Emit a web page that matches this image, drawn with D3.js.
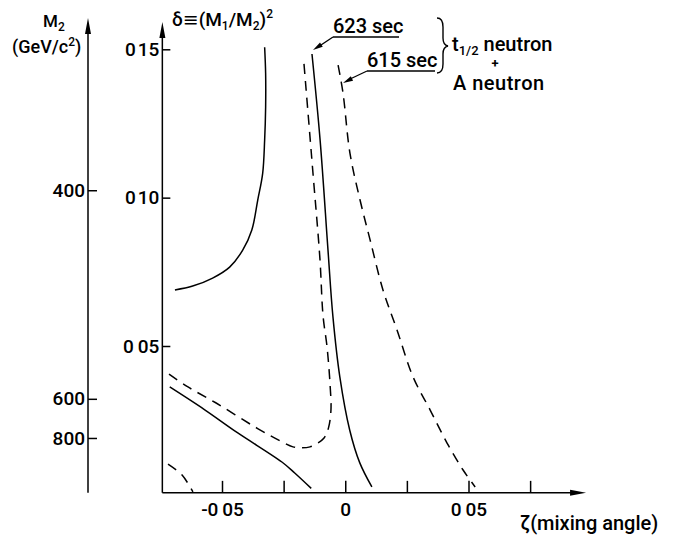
<!DOCTYPE html>
<html>
<head>
<meta charset="utf-8">
<script src="https://cdn.jsdelivr.net/npm/d3@7"></script>
<style>
  body { margin: 0; background: #fff; }
  svg { font-family: Roboto, "DejaVu Sans", sans-serif; font-weight: 500; }
</style>
</head>
<body>
<div id="chart"></div>
<script>
// curve data, [zeta, delta]
var solidUpper = [[-0.0691,0.0689],[-0.0619,0.0702],[-0.0538,0.0729],[-0.0469,0.0766],[-0.0416,0.0823],
  [-0.0379,0.0891],[-0.0355,0.0992],[-0.0335,0.1082],[-0.0327,0.1194],[-0.0323,0.1305],[-0.0323,0.1419],[-0.0327,0.1507]];
var solidLower = [[-0.0712,0.0362],[-0.0570,0.0285],[-0.0436,0.0207],[-0.0257,0.0109],
  [-0.0205,0.0072],[-0.0138,0.0020]];
var dashedLeft = [[-0.0715,0.0405],[-0.0638,0.0362],[-0.0522,0.0307],[-0.0366,0.0227],[-0.0257,0.0177],
  [-0.0212,0.0160],[-0.0176,0.0157],[-0.0143,0.0160],[-0.0111,0.0173],[-0.0086,0.0190],[-0.0068,0.0224],
  [-0.0058,0.0284],[-0.0062,0.0375],[-0.0074,0.0498],[-0.0090,0.0601],[-0.0103,0.0797],[-0.0131,0.1083],[-0.0168,0.1457]];
var solidCentral = [[-0.0135,0.1484],[-0.0102,0.1194],[-0.0070,0.0823],[-0.0050,0.0599],[-0.0022,0.0396],
  [0.0018,0.0217],[0.0059,0.0106],[0.0108,0.0025]];
var dashedRight = [[-0.0029,0.1447],[-0.0009,0.1352],[0.0019,0.1150],[0.0060,0.0992],[0.0101,0.0857],
  [0.0153,0.0689],[0.0210,0.0554],[0.0275,0.0396],[0.0344,0.0285],[0.0413,0.0173],[0.0478,0.0082],[0.0527,0.0025]];
var dashedCorner = [[-0.0719,0.0102],[-0.0662,0.0065],[-0.0618,0.0008]];

// ticks
var xTicks = [-0.05, -0.025, 0, 0.025, 0.05, 0.075];
var xLabelValues = [-0.05, 0, 0.05];
var xLabelText = ["-0\u200905", "0", "0\u200905"];
var yTicks = [0.05, 0.10, 0.15];
var yLabelText = ["0\u200905", "0\u200a10", "0\u200a15"];
var m2Ticks = [400, 600, 800];
var m2Delta = [0.1025, 0.0322, 0.0190];

var svgWidth = 677, svgHeight = 537;

var svg = d3.select("#chart")
  .append("svg")
  .attr("width", svgWidth)
  .attr("height", svgHeight);
svg.append("rect")
  .attr("width", "100%")
  .attr("height", "100%")
  .attr("fill", "white");

var x = d3.scaleLinear().domain([-0.05, 0.05]).range([222, 468.5]);
var y = d3.scaleLinear().domain([0.05, 0.15]).range([346, 49.3]);
var m2 = d3.scaleLinear().domain(m2Ticks).range(m2Delta.map(d => y(d)));

var zetaStart = -0.0742, zetaEnd = 0.0977, deltaBase = 0.0005;
var x0 = x(zetaStart), y0 = y(deltaBase);
var m2x = 88;

function arrowHead(tx, ty, ang, len, hw) {
  var c = Math.cos(ang), s = Math.sin(ang);
  var bx = tx - c * len, by = ty - s * len;
  return "M" + tx + "," + ty + "L" + (bx - s * hw) + "," + (by + c * hw) +
    "L" + (bx + s * hw) + "," + (by - c * hw) + "Z";
}

// axis lines with arrows
var axes = svg.append("g").attr("stroke", "black").attr("stroke-width", 1.5);
axes.append("line").attr("x1", x0).attr("y1", y0).attr("x2", x(zetaEnd) - 10).attr("y2", y0);
axes.append("line").attr("x1", x0).attr("y1", y0).attr("x2", x0).attr("y2", 34);
axes.append("line").attr("x1", m2x).attr("y1", y0).attr("x2", m2x).attr("y2", 30);
svg.append("path").attr("d", arrowHead(x(zetaEnd), y0, 0, 16, 3)).attr("fill", "black");
svg.append("path").attr("d", arrowHead(x0, 22, -Math.PI / 2, 16, 3)).attr("fill", "black");
svg.append("path").attr("d", arrowHead(m2x, 18, -Math.PI / 2, 16, 3)).attr("fill", "black");

// bottom axis
var bottomAxis = d3.axisBottom(x)
  .tickValues(xTicks)
  .tickSizeInner(-12)
  .tickSizeOuter(0)
  .tickPadding(10)
  .tickFormat(d => {
    var i = xLabelValues.findIndex(v => Math.abs(v - d) < 1e-9);
    return i < 0 ? "" : xLabelText[i];
  });
var gx = svg.append("g")
  .attr("transform", `translate(0, ${y0})`)
  .call(bottomAxis);

// delta axis
var leftAxis = d3.axisLeft(y)
  .tickValues(yTicks)
  .tickSizeInner(-8)
  .tickSizeOuter(0)
  .tickPadding(3)
  .tickFormat((d, i) => yLabelText[i]);
var gy = svg.append("g")
  .attr("transform", `translate(${x0}, 0)`)
  .call(leftAxis);

// M2 axis
var m2Axis = d3.axisLeft(m2)
  .tickValues(m2Ticks)
  .tickSizeInner(-9)
  .tickSizeOuter(0)
  .tickPadding(3)
  .tickFormat(d3.format("d"));
var gm = svg.append("g")
  .attr("transform", `translate(${m2x}, 0)`)
  .call(m2Axis);

[gx, gy, gm].forEach(function(g) {
  g.select(".domain").remove();
  g.selectAll(".tick line").attr("stroke", "black").attr("stroke-width", 1.5);
  g.selectAll(".tick text")
    .attr("fill", "black")
    .style("font-family", "Roboto, 'DejaVu Sans', sans-serif")
    .style("font-size", "19px");
});

// curves
var line = d3.line()
  .x(d => x(d[0]))
  .y(d => y(d[1]))
  .curve(d3.curveCatmullRom.alpha(0.5));

var curves = [
  { pts: solidUpper, dash: null },
  { pts: solidLower, dash: null },
  { pts: solidCentral, dash: null },
  { pts: dashedLeft, dash: "10,7" },
  { pts: dashedRight, dash: "10,7" },
  { pts: dashedCorner, dash: "10,7" }
];
svg.selectAll("path.curve")
  .data(curves)
  .enter()
  .append("path")
  .attr("class", "curve")
  .attr("d", d => line(d.pts))
  .attr("fill", "none")
  .attr("stroke", "black")
  .attr("stroke-width", 1.5)
  .attr("stroke-dasharray", d => d.dash);

// axis titles
var t1 = svg.append("text").attr("x", 43).attr("y", 27).style("font-size", "17px");
t1.append("tspan").text("M");
t1.append("tspan").attr("font-size", "12px").attr("dy", 4).text("2");

var t2 = svg.append("text").attr("x", 12).attr("y", 53).style("font-size", "18px");
t2.append("tspan").text("(GeV/c");
t2.append("tspan").attr("font-size", "12px").attr("dy", -7).text("2");
t2.append("tspan").attr("dy", 7).text(")");

var t3 = svg.append("text").attr("x", 172).attr("y", 26).style("font-size", "19px");
t3.append("tspan").text("\u03b4\u2261(M");
t3.append("tspan").attr("font-size", "12px").attr("dy", 4).text("1");
t3.append("tspan").attr("dy", -4).text("/M");
t3.append("tspan").attr("font-size", "12px").attr("dy", 4).text("2");
t3.append("tspan").attr("dy", -4).text(")");
t3.append("tspan").attr("font-size", "12px").attr("dy", -8).text("2");

svg.append("text").attr("x", 520).attr("y", 530).style("font-size", "20px")
  .text("\u03b6(mixing angle)");

// annotations
var ann = svg.append("g").style("font-size", "20px");
ann.append("text").attr("x", 333).attr("y", 33).text("623 sec");
ann.append("text").attr("x", 367).attr("y", 67).text("615 sec");
var annLines = ann.append("g").attr("stroke", "black").attr("stroke-width", 1.3);
annLines.append("line").attr("x1", 333).attr("y1", 37).attr("x2", 399).attr("y2", 37);
annLines.append("line").attr("x1", 367).attr("y1", 71).attr("x2", 435).attr("y2", 71);
annLines.append("line").attr("x1", 333).attr("y1", 37).attr("x2", 318).attr("y2", 47);
annLines.append("line").attr("x1", 367).attr("y1", 71).attr("x2", 348).attr("y2", 80);
var a1 = Math.atan2(50 - 37, 313 - 333);
var a2 = Math.atan2(83 - 71, 343 - 367);
ann.append("path").attr("d", arrowHead(313, 50, a1, 10, 2.5)).attr("fill", "black");
ann.append("path").attr("d", arrowHead(343, 83, a2, 10, 2.5)).attr("fill", "black");

ann.append("path")
  .attr("d", "M437,18 Q443,18 443,27 L443,38 Q443,45 448,46 Q443,47 443,54 L443,64 Q443,73 437,73")
  .attr("fill", "none").attr("stroke", "black").attr("stroke-width", 1.4);

var t4 = ann.append("text").attr("x", 452).attr("y", 51);
t4.append("tspan").text("t");
t4.append("tspan").attr("font-size", "13px").attr("dy", 4).text("1/2");
t4.append("tspan").attr("dy", -4).text(" neutron");
ann.append("text").attr("x", 495).attr("y", 68).attr("text-anchor", "middle")
  .style("font-size", "13px").style("font-weight", "bold").text("+");
ann.append("text").attr("x", 453).attr("y", 90).attr("letter-spacing", "0.5").text("A neutron");
</script>
</body>
</html>
